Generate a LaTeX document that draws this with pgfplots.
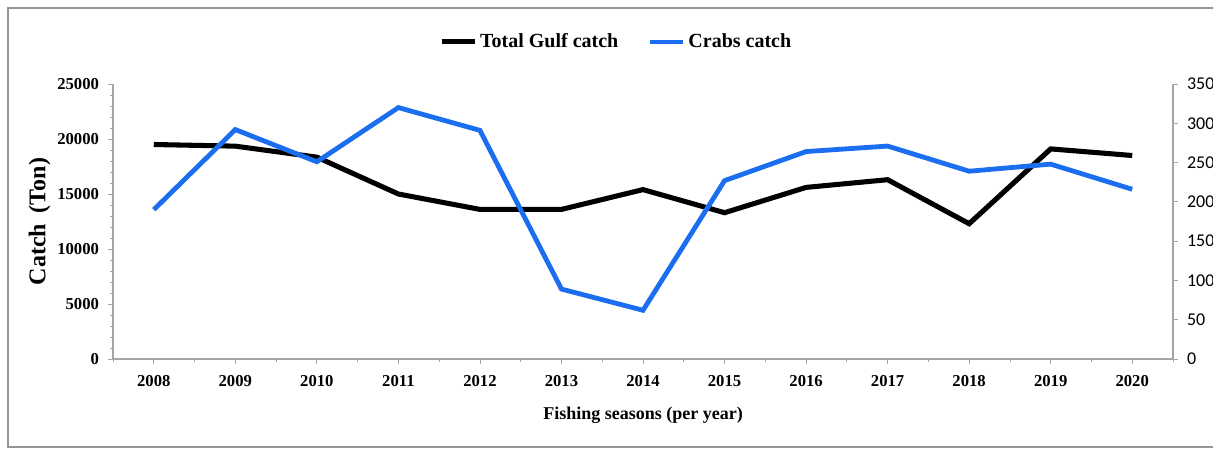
\documentclass[border=0pt]{standalone}
\usepackage{fontspec}
\setmainfont{Liberation Serif}
\newfontfamily\calibri{Carlito}
\usepackage{pgfplots}
\pgfplotsset{compat=1.18}
\definecolor{crab}{RGB}{28,110,240}
\definecolor{axgray}{RGB}{165,165,165}
\definecolor{framegray}{RGB}{150,150,150}

\pgfplotstableread{
x total crabs
0 19500 190
1 19350 292
2 18350 251
3 15000 320
4 13600 291
5 13600 89
6 15400 62
7 13300 227
8 15600 264
9 16300 271
10 12300 239
11 19100 248
12 18500 216
}\datatable

\begin{document}
\begin{tikzpicture}
\useasboundingbox (-84.75pt,-69pt) rectangle (825pt,269.25pt);
\draw[framegray, line width=1pt] (830pt,263.25pt) -- (-78.75pt,263.25pt) -- (-78.75pt,-66pt) -- (830pt,-66pt);
\pgfplotsset{common/.style={
  scale only axis, width=795pt, height=206.25pt,
  xmin=-0.5, xmax=12.5, at={(0,0)}, anchor=south west,
  axis line style={axgray, line width=0.8pt},
  tick style={axgray, line width=0.6pt},
  tick align=outside,
  major tick length=4pt, minor tick length=2.5pt,
  scaled y ticks=false,
  /pgf/number format/1000 sep={},
  /pgf/number format/assume math mode=true,
}}
\begin{axis}[common,
  ymin=0, ymax=25000,
  axis y line*=left, axis x line*=bottom,
  ytick={0,5000,...,25000},
  minor y tick num=4,
  xtick={0,...,12},
  xticklabels={2008,2009,2010,2011,2012,2013,2014,2015,2016,2017,2018,2019,2020},
  minor xtick={-0.5,0.5,...,12.5},
  yticklabel style={font=\fontsize{12.5}{14}\selectfont\bfseries, xshift=-3pt},
  xticklabel style={font=\fontsize{12.5}{14}\selectfont\bfseries, yshift=-5pt},
  xlabel={Fishing seasons (per year)},
  xlabel style={font=\fontsize{13.5}{15}\selectfont\bfseries, at={(axis description cs:0.5,-0.204)}, anchor=center},
  ylabel={Catch\hspace{0.45em}(Ton)},
  ylabel style={font=\fontsize{18}{20}\selectfont\bfseries, at={(axis description cs:-0.0692,0.5)}, anchor=center},
  legend style={draw=none, fill=none, legend columns=2, at={(axis description cs:0.475,1.153)}, anchor=center,
    font=\fontsize{15}{17}\selectfont\bfseries,
    /tikz/every even column/.append style={column sep=20pt}},
  legend image code/.code={\draw[#1] (0pt,0pt) -- (25pt,0pt);},
]
\addplot[black, line width=3.8pt] table[x=x, y=total] {\datatable};
\addlegendentry{Total Gulf catch}
\addlegendimage{crab, line width=3.6pt}
\addlegendentry{Crabs catch}
\end{axis}
\begin{axis}[common,
  ymin=0, ymax=350,
  axis y line*=right, axis x line=none,
  ytick={0,50,...,350},
  yticklabel style={font=\fontsize{13.5}{15}\selectfont\calibri, xshift=3pt},
]
\addplot[crab, line width=3.6pt] table[x=x, y=crabs] {\datatable};
\end{axis}
\end{tikzpicture}
\end{document}
